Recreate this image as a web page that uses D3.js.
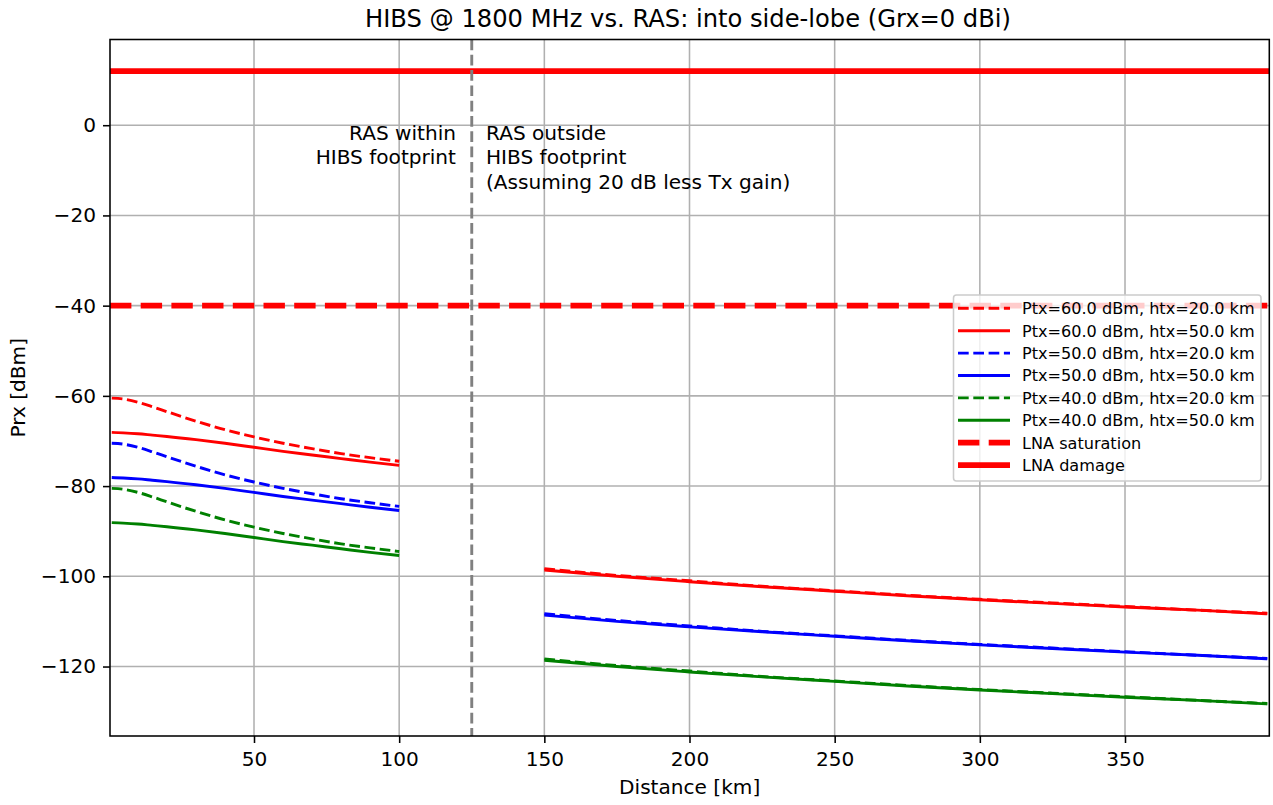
<!DOCTYPE html>
<html><head><meta charset="utf-8">
<script src="https://cdn.jsdelivr.net/npm/d3@7"></script>
<style>body{margin:0;background:#fff}svg{display:block;font-family:"DejaVu Sans",sans-serif}</style>
</head><body><svg id="c" width="1273" height="805"></svg>
<script>
// ---- data ----
const inDist  = [1, 5, 10, 15, 20, 30, 40, 50, 60, 70, 80, 90, 100];
const outDist = [150, 175, 200, 225, 250, 275, 300, 325, 350, 375, 399];

const in60_20 = [-60.5, -60.7, -61.4, -62.4, -63.5, -65.6, -67.5, -69.1, -70.5, -71.7, -72.8, -73.7, -74.5];
const in60_50 = [-68.1, -68.2, -68.4, -68.7, -69.0, -69.7, -70.5, -71.4, -72.3, -73.1, -73.9, -74.7, -75.4];
const in50_20 = [-70.5, -70.7, -71.4, -72.4, -73.5, -75.6, -77.5, -79.1, -80.5, -81.7, -82.8, -83.7, -84.5];
const in50_50 = [-78.1, -78.2, -78.4, -78.7, -79.0, -79.7, -80.5, -81.4, -82.3, -83.1, -83.9, -84.7, -85.4];
const in40_20 = [-80.5, -80.7, -81.4, -82.4, -83.5, -85.6, -87.5, -89.1, -90.5, -91.7, -92.8, -93.7, -94.5];
const in40_50 = [-88.1, -88.2, -88.4, -88.7, -89.0, -89.7, -90.5, -91.4, -92.3, -93.1, -93.9, -94.7, -95.4];

const out60_20 = [-98.3, -99.8, -101.0, -102.2, -103.2, -104.2, -105.1, -105.9, -106.7, -107.5, -108.2];
const out60_50 = [-98.6, -100.0, -101.2, -102.3, -103.3, -104.3, -105.2, -106.0, -106.8, -107.5, -108.3];
const out50_20 = [-108.3, -109.8, -111.0, -112.2, -113.2, -114.2, -115.1, -115.9, -116.7, -117.5, -118.2];
const out50_50 = [-108.6, -110.0, -111.2, -112.3, -113.3, -114.3, -115.2, -116.0, -116.8, -117.5, -118.3];
const out40_20 = [-118.3, -119.8, -121.0, -122.2, -123.2, -124.2, -125.1, -125.9, -126.7, -127.5, -128.2];
const out40_50 = [-118.6, -120.0, -121.2, -122.3, -123.3, -124.3, -125.2, -126.0, -126.8, -127.5, -128.3];

const lnaSaturation = -40;
const lnaDamage = 12;
const footprintEdge = 125;

const xTicks = [50, 100, 150, 200, 250, 300, 350];
const yTicks = [0, -20, -40, -60, -80, -100, -120];

const seriesLabels = ["Ptx=60.0 dBm, htx=20.0 km", "Ptx=60.0 dBm, htx=50.0 km",
  "Ptx=50.0 dBm, htx=20.0 km", "Ptx=50.0 dBm, htx=50.0 km",
  "Ptx=40.0 dBm, htx=20.0 km", "Ptx=40.0 dBm, htx=50.0 km"];
const seriesColors = ["#ff0000", "#ff0000", "#0000ff", "#0000ff", "#008000", "#008000"];
const seriesDashed = [true, false, true, false, true, false];
const seriesIn  = [in60_20, in60_50, in50_20, in50_50, in40_20, in40_50];
const seriesOut = [out60_20, out60_50, out50_20, out50_50, out40_20, out40_50];

// ---- layout ----
const L = 110, R = 1269.3, T = 39.5, B = 736;
const LW = 2.9, SP = 1.55, FS = 20.1;
const svg = d3.select("#c");
const x = d3.scaleLinear().domain([0.4, 399.7]).range([L, R]);
const y = d3.scaleLinear().domain([-135.4, 19.0]).range([B, T]);

// grid
const g = svg.append("g");
g.selectAll(".gx").data(xTicks).join("line")
  .attr("x1", d => x(d)).attr("x2", d => x(d)).attr("y1", T).attr("y2", B)
  .attr("stroke", "#b0b0b0").attr("stroke-width", SP);
g.selectAll(".gy").data(yTicks).join("line")
  .attr("y1", d => y(d)).attr("y2", d => y(d)).attr("x1", L).attr("x2", R)
  .attr("stroke", "#b0b0b0").attr("stroke-width", SP);

svg.append("defs").append("clipPath").attr("id", "pc")
  .append("rect").attr("x", L).attr("y", T).attr("width", R - L).attr("height", B - T);
const plot = svg.append("g").attr("clip-path", "url(#pc)");

const line = d3.line().x(d => x(d[0])).y(d => y(d[1])).curve(d3.curveMonotoneX);

seriesIn.forEach((vals, i) => {
  [[inDist, vals], [outDist, seriesOut[i]]].forEach(([ds, vs]) => {
    plot.append("path").datum(ds.map((d, k) => [d, vs[k]]))
      .attr("d", line).attr("fill", "none")
      .attr("stroke", seriesColors[i]).attr("stroke-width", LW)
      .attr("stroke-dasharray", seriesDashed[i] ? "10.7,4.6" : null);
  });
});

// LNA lines
plot.append("line").attr("x1", L).attr("x2", R).attr("y1", y(lnaSaturation)).attr("y2", y(lnaSaturation))
  .attr("stroke", "#ff0000").attr("stroke-width", 5.8).attr("stroke-dasharray", "21.4,9.3");
plot.append("line").attr("x1", L).attr("x2", R).attr("y1", y(lnaDamage)).attr("y2", y(lnaDamage))
  .attr("stroke", "#ff0000").attr("stroke-width", 5.8);

// footprint edge
plot.append("line").attr("x1", x(footprintEdge)).attr("x2", x(footprintEdge)).attr("y1", T).attr("y2", B)
  .attr("stroke", "#808080").attr("stroke-width", LW).attr("stroke-dasharray", "10.7,4.6");

// annotations
const ann = svg.append("g").attr("font-size", FS).attr("fill", "#000");
const leftT = ann.append("text").attr("text-anchor", "end").attr("x", 456).attr("y", 140);
["RAS within", "HIBS footprint"].forEach((t, i) => leftT.append("tspan").attr("x", 456).attr("dy", i ? 24.3 : 0).text(t));
const rightT = ann.append("text").attr("text-anchor", "start").attr("x", 486).attr("y", 140);
["RAS outside", "HIBS footprint", "(Assuming 20 dB less Tx gain)"].forEach((t, i) => rightT.append("tspan").attr("x", 486).attr("dy", i ? 24.3 : 0).text(t));

// spines
svg.append("rect").attr("x", L).attr("y", T).attr("width", R - L).attr("height", B - T)
  .attr("fill", "none").attr("stroke", "#000").attr("stroke-width", SP);

// axes
const xa = svg.append("g").attr("transform", `translate(0,${B})`)
  .call(d3.axisBottom(x).tickValues(xTicks).tickSize(7).tickPadding(8.6).tickFormat(d3.format("d")));
const ya = svg.append("g").attr("transform", `translate(${L},0)`)
  .call(d3.axisLeft(y).tickValues(yTicks).tickSize(7).tickPadding(7).tickFormat(d3.format("d")));
[xa, ya].forEach(a => {
  a.select(".domain").remove();
  a.selectAll("line").attr("stroke", "#000").attr("stroke-width", SP);
  a.selectAll("text").attr("font-size", FS).attr("font-family", "DejaVu Sans").attr("fill", "#000");
});

svg.append("text").attr("x", (L + R) / 2).attr("y", 794).attr("text-anchor", "middle")
  .attr("font-size", FS).text("Distance [km]");
svg.append("text").attr("transform", `translate(25,${(T + B) / 2}) rotate(-90)`).attr("text-anchor", "middle")
  .attr("font-size", FS).text("Prx [dBm]");
svg.append("text").attr("x", 688).attr("y", 26.5).attr("text-anchor", "middle")
  .attr("font-size", 24.2).text("HIBS @ 1800 MHz vs. RAS: into side-lobe (Grx=0 dBi)");

// legend
const legItems = seriesLabels.map((s, i) => ({label: s, color: seriesColors[i], dashed: seriesDashed[i], w: LW, big: false}))
  .concat([{label: "LNA saturation", color: "#ff0000", dashed: true, w: 5.8, big: true},
           {label: "LNA damage", color: "#ff0000", dashed: false, w: 5.8, big: true}]);
const lg = svg.append("g");
lg.append("rect").attr("x", 953.5).attr("y", 295).attr("width", 307.5).attr("height", 186).attr("rx", 3)
  .attr("fill", "#fff").attr("fill-opacity", 0.8).attr("stroke", "#cccccc").attr("stroke-width", SP);
legItems.forEach((it, i) => {
  const yy = 308.3 + i * 22.4;
  lg.append("line").attr("x1", 958).attr("x2", 1010).attr("y1", yy).attr("y2", yy)
    .attr("stroke", it.color).attr("stroke-width", it.w)
    .attr("stroke-dasharray", it.dashed ? (it.big ? "21.4,9.3" : "10.7,4.6") : null);
  lg.append("text").attr("x", 1022).attr("y", yy + 5.8).attr("font-size", 16.1).text(it.label);
});
</script></body></html>
